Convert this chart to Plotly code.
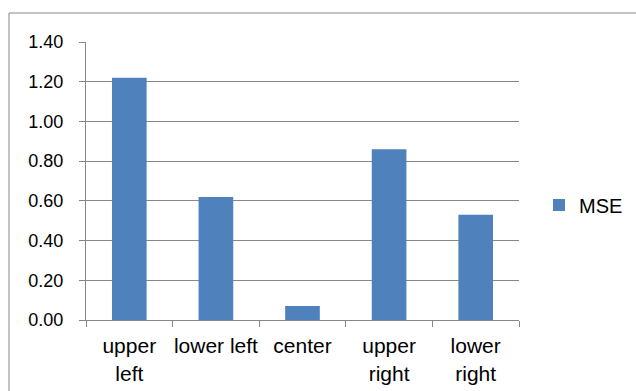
import plotly.graph_objects as go

categories = ["upper<br>left", "lower left", "center", "upper<br>right", "lower<br>right"]
mse_values = [1.22, 0.62, 0.07, 0.86, 0.53]
y_ticks = [0.0, 0.2, 0.4, 0.6, 0.8, 1.0, 1.2, 1.4]
series_name = "MSE"

W, H = 636, 391
L, R, T, B = 86, 117, 42, 71
pw, ph = W - L - R, H - T - B

grey = "#878787"
font_family = "Liberation Sans, Arial, sans-serif"

fig = go.Figure()
fig.add_trace(go.Bar(
    x=categories, y=mse_values, name=series_name,
    marker=dict(color="#4F81BD", line=dict(width=0)),
    showlegend=True,
))

fig.update_layout(
    width=W, height=H,
    margin=dict(l=L, r=R, t=T, b=B, pad=0, autoexpand=False),
    paper_bgcolor="white", plot_bgcolor="white",
    bargap=0.6,
    font=dict(family=font_family, size=18, color="#000000"),
    showlegend=True,
    legend=dict(
        x=(539 - L) / pw, y=(320 - 205) / ph,
        xanchor="left", yanchor="middle",
        font=dict(size=20, family=font_family),
        bgcolor="rgba(0,0,0,0)", borderwidth=0,
        itemwidth=30,
    ),
)

fig.update_xaxes(
    type="category",
    showline=True, linecolor=grey, linewidth=1,
    ticks="outside", tickson="boundaries", ticklen=6, tickcolor=grey, tickwidth=1,
    tickfont=dict(size=21), tickangle=0, automargin=False,
    ticklabelstandoff=7,
    showgrid=False, zeroline=False,
)
fig.update_yaxes(
    range=[0, 1.4], tickvals=y_ticks, tickformat=".2f",
    showline=True, linecolor=grey, linewidth=1,
    ticks="outside", ticklen=6, tickcolor=grey, tickwidth=1,
    showgrid=True, gridcolor=grey, gridwidth=1,
    zeroline=False, automargin=False,
    tickfont=dict(size=18),
    ticklabelstandoff=12,
)

# outer chart frame (extends beyond the bottom/right edges of the picture)
fig.add_shape(
    type="rect", xref="paper", yref="paper",
    x0=(9 - L) / pw, x1=(W + 20 - L) / pw,
    y0=(320 - (H + 20)) / ph, y1=(320 - 13) / ph,
    line=dict(color=grey, width=1), fillcolor="rgba(0,0,0,0)",
    layer="below",
)

fig.write_html(
    "out.html",
    config={"displayModeBar": False},
    post_script="document.body.style.margin='0';document.body.style.padding='0';document.body.style.overflow='hidden';",
)
